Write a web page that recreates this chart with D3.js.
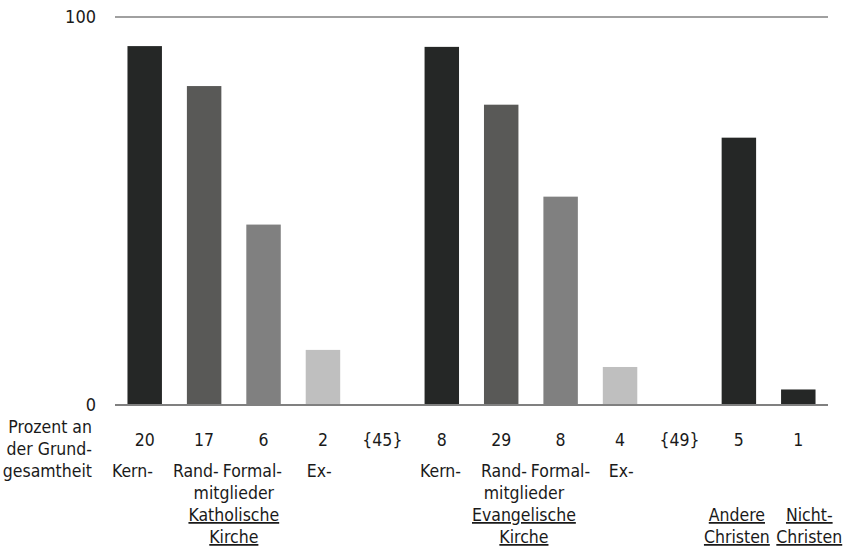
<!DOCTYPE html>
<html>
<head>
<meta charset="utf-8">
<script src="https://cdn.jsdelivr.net/npm/d3@7"></script>
<style>
  html, body { margin: 0; padding: 0; background: #fff; }
  svg text { font-family: "DejaVu Sans Condensed", "DejaVu Sans", sans-serif; font-stretch: condensed; fill: #1a1a1a; }
</style>
</head>
<body>
<svg id="chart" width="846" height="547"></svg>
<script>
// ---- data ----
const categories = ["kath-kern","kath-rand","kath-formal","kath-ex","kath-rest",
                    "ev-kern","ev-rand","ev-formal","ev-ex","ev-rest",
                    "andere","nicht"];
const values = [92.5, 82.2, 46.5, 14.2, null, 92.3, 77.4, 53.7, 9.8, null, 68.9, 4.0];
const kinds  = ["kern","rand","formal","ex",null,"kern","rand","formal","ex",null,"kern","kern"];
const shareLabels = ["20","17","6","2","{45}","8","29","8","4","{49}","5","1"];
const typeLabels  = ["Kern-","Rand-","Formal-","Ex-","","Kern-","Rand-","Formal-","Ex-","","",""];
const yTicks = [0, 100];
const rowTitle = ["Prozent an","der Grund-","gesamtheit"];
const groupNames = [
  {lines: ["mitglieder","Katholische","Kirche"], under: [false,true,true], from: "kath-rand", to: "kath-formal"},
  {lines: ["mitglieder","Evangelische","Kirche"], under: [false,true,true], from: "ev-rand", to: "ev-formal"},
  {lines: ["Andere","Christen"], under: [true,true], from: "andere", to: "andere"},
  {lines: ["Nicht-","Christen"], under: [true,true], from: "nicht", to: "nicht"}
];

// ---- layout / style ----
const colors = {kern: "#252726", rand: "#595957", formal: "#808080", ex: "#bfbfbf"};
const typeDx = [-15.5,-14,-34,1,0,-4.5,-3,-23.5,6,0,0,0];
const groupDx = [0,-7,-2,11];
const groupRowStart = [1,1,2,2];
const FS = 17.5;

const svg = d3.select("#chart");
const x = d3.scaleBand().domain(categories).range([115, 828]).paddingInner(0.42).paddingOuter(0.21);
const y = d3.scaleLinear().domain([0, 100]).range([405, 17]);

// gridlines
svg.append("g").selectAll("line").data(yTicks).join("line")
  .attr("x1", 115).attr("x2", 828)
  .attr("y1", d => y(d)).attr("y2", d => y(d))
  .attr("stroke", "#808080").attr("stroke-width", d => d === 0 ? 2.2 : 1.5);

// tick labels
svg.append("g").selectAll("text").data(yTicks).join("text")
  .attr("x", 96).attr("y", d => y(d)).attr("dy", "0.35em")
  .attr("text-anchor", "end").attr("font-size", FS + 0.5)
  .text(d => d);

// bars
const barData = categories.map((c, i) => ({c, v: values[i], k: kinds[i]})).filter(d => d.v != null);
svg.append("g").selectAll("rect").data(barData).join("rect")
  .attr("x", d => x(d.c)).attr("width", x.bandwidth())
  .attr("y", d => y(d.v)).attr("height", d => y(0) - y(d.v) - 1)
  .attr("fill", d => colors[d.k]);

// share labels
svg.append("g").selectAll("text").data(categories).join("text")
  .attr("x", d => x(d) + x.bandwidth() / 2).attr("y", 446)
  .attr("text-anchor", "middle").attr("font-size", FS)
  .text((d, i) => shareLabels[i]);

// row title
svg.append("g").selectAll("text").data(rowTitle).join("text")
  .attr("x", 92).attr("y", (d, i) => 433 + i * 22)
  .attr("text-anchor", "end").attr("font-size", FS)
  .text(d => d);

// type labels (left-anchored; never let one run into the next)
let lastEnd = -Infinity;
categories.forEach((c, i) => {
  if (!typeLabels[i]) return;
  const want = x(c) + typeDx[i];
  const t = svg.append("text")
    .attr("y", 477).attr("text-anchor", "start").attr("font-size", FS)
    .text(typeLabels[i]);
  const xs = Math.max(want, lastEnd + 4);
  t.attr("x", xs);
  lastEnd = xs + t.node().getComputedTextLength();
});

// group labels
groupNames.forEach((g, gi) => {
  const cx = (x(g.from) + x(g.to) + x.bandwidth()) / 2 + groupDx[gi];
  g.lines.forEach((ln, li) => {
    svg.append("text")
      .attr("x", cx).attr("y", 477 + (groupRowStart[gi] + li) * 22)
      .attr("text-anchor", "middle").attr("font-size", FS)
      .style("text-decoration", g.under[li] ? "underline" : "none")
      .text(ln);
  });
});
</script>
</body>
</html>
